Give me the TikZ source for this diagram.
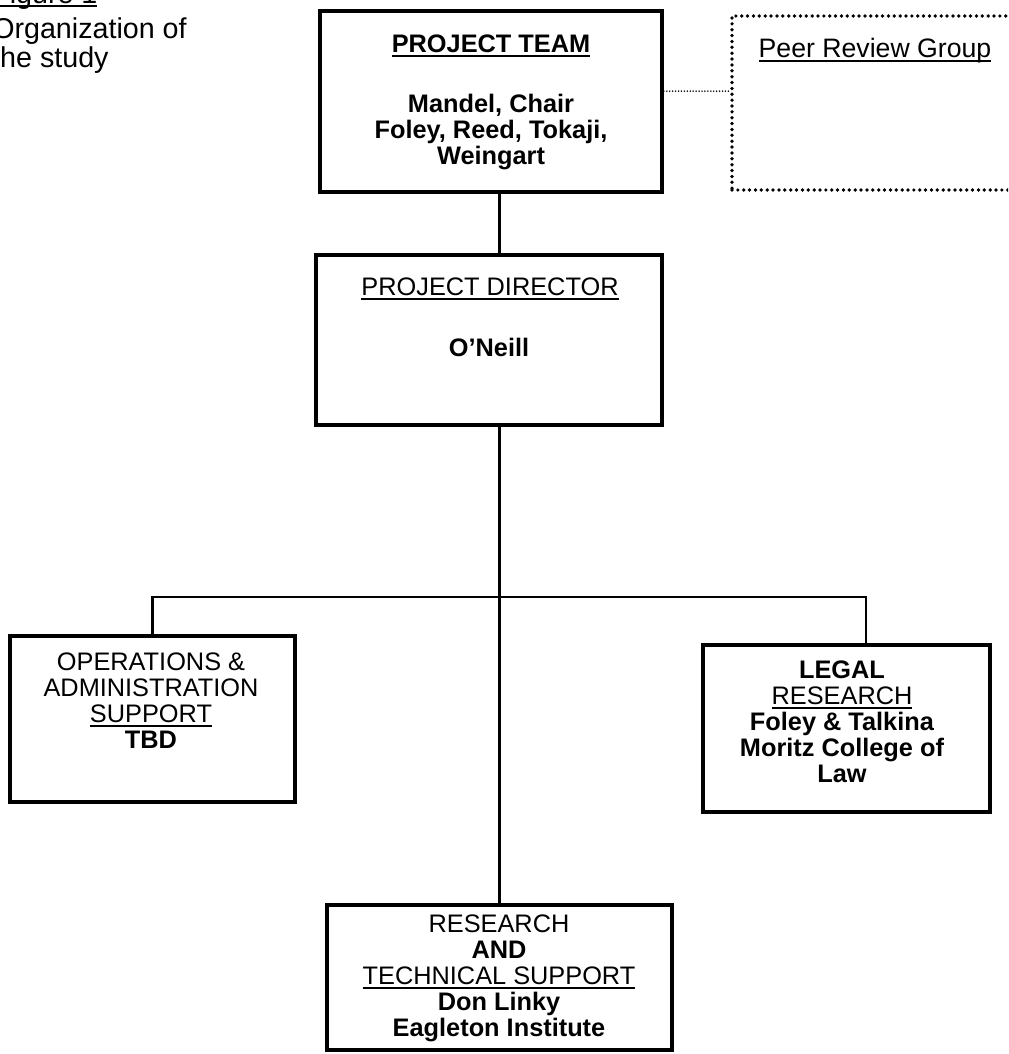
\documentclass[tikz,border=0pt]{standalone}
\usepackage{fontspec}
\setmainfont{Liberation Sans}
\usetikzlibrary{fit}
\newcommand{\myul}[1]{\setbox0=\hbox{#1}\leavevmode\rlap{\rule[-3pt]{\wd0}{1.3pt}}\box0}
\begin{document}
\begin{tikzpicture}[x=0.75pt,y=-0.75pt,
  box/.style={draw, line width=2.8pt, inner sep=0pt, rectangle},
  peerbox/.style={draw, line width=2.8pt, dash pattern=on 0pt off 4.4pt, line cap=round, inner sep=0pt, rectangle},
  conn/.style={line width=2.2pt},
  dotlink/.style={line width=1.3pt, dash pattern=on 0pt off 2.2pt, line cap=round},
  txt/.style={font=\fontsize{19}{19.5}\selectfont, align=center, inner sep=0pt, anchor=north},
  captxt/.style={font=\fontsize{21.5}{23}\selectfont, inner sep=0pt, anchor=base west}]
\useasboundingbox (0,0) rectangle (1008,1054);
\fill[white] (0,0) rectangle (1008,1054);
\clip (0,0) rectangle (1008,1054);

% caption
\node[captxt] (fig) at (-8,3) {\myul{Figure 1}};
\node[captxt] (cap1) at (-8,38) {Organization of};
\node[captxt] (cap2) at (-8,67) {the study};

% boxes
\node[box, fit={(320,11) (662,192)}] (team) {};
\node[peerbox, fit={(732,16) (1040,190)}] (peer) {};
\node[box, fit={(316,255) (662,425)}] (dir) {};
\node[box, fit={(10,636) (295,802)}] (ops) {};
\node[box, fit={(703,645) (990,812)}] (legal) {};
\node[box, fit={(327,905) (672,1050)}] (res) {};

% texts
\node[txt] (teamtitle) at (491,35) {\myul{\textbf{PROJECT TEAM}}};
\node[txt] (teamnames) at (491,94) {\textbf{Mandel, Chair}\\\textbf{Foley, Reed, Tokaji,}\\\textbf{Weingart}};
\node[txt, font=\fontsize{20}{21}\selectfont] (peertitle) at (875,38) {\myul{Peer Review Group}};
\node[txt] (dirtitle) at (490,278) {\myul{PROJECT DIRECTOR}};
\node[txt] (dirname) at (489,338) {\textbf{O'Neill}};
\node[txt] (opstext) at (151,653) {OPERATIONS \&\\ADMINISTRATION\\\myul{SUPPORT}\\\textbf{TBD}};
\node[txt] (legaltext) at (842,661) {\textbf{LEGAL}\\\myul{RESEARCH}\\\textbf{Foley \& Talkina}\\\textbf{Moritz College of}\\\textbf{Law}};
\node[txt] (restext) at (499,915) {RESEARCH\\\textbf{AND}\\\myul{TECHNICAL SUPPORT}\\\textbf{Don Linky}\\\textbf{Eagleton Institute}};

% connectors
\coordinate (bus) at (499,597);
\path ([yshift=-61.5pt]team.north east) coordinate (dl);
\draw[dotlink] (dl) -- (peer.west |- dl);
\draw[conn] (team.south -| res.north) -- (dir.north -| res.north);
\draw[conn] (dir.south -| res.north) -- (res.north);
\draw[conn] (ops.north) |- (bus) -| ([xshift=14.6pt]legal.north);
\end{tikzpicture}
\end{document}
